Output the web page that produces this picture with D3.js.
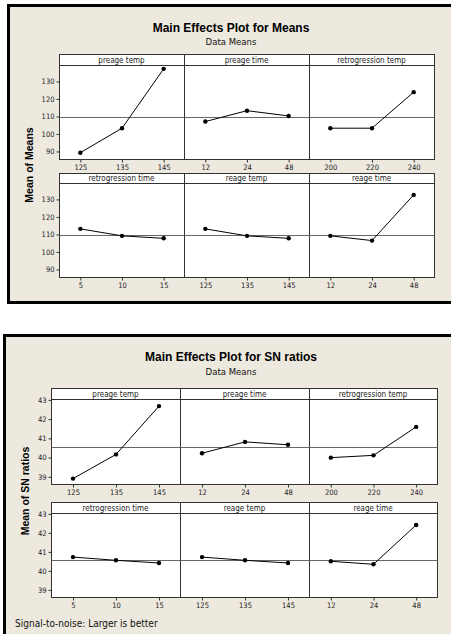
<!DOCTYPE html>
<html><head><meta charset="utf-8">
<script src="https://cdn.jsdelivr.net/npm/d3@7"></script>
<style>
html,body{margin:0;padding:0;background:#fff;}
svg{display:block;}
text{font-family:"DejaVu Sans Condensed","Liberation Sans",Arial,sans-serif;}
</style></head>
<body>
<script>
// ---------- DATA ----------
const factors = ["preage temp","preage time","retrogression temp","retrogression time","reage temp","reage time"];
const levels = [["125","135","145"],["12","24","48"],["200","220","240"],["5","10","15"],["125","135","145"],["12","24","48"]];
const meansValues = [[89.0,103.0,136.9],[106.8,113.0,110.0],[103.0,103.0,123.6],[112.9,108.9,107.5],[112.9,108.9,107.5],[108.9,106.2,132.3]];
const meansGrand = 109.4;
const meansTicks = [90,100,110,120,130];
const snValues = [[38.88,40.14,42.65],[40.20,40.79,40.64],[39.97,40.09,41.57],[40.70,40.53,40.39],[40.70,40.53,40.39],[40.48,40.32,42.39]];
const snGrand = 40.53;
const snTicks = [39,40,41,42,43];
const titles = ["Main Effects Plot for Means","Main Effects Plot for SN ratios"];
const subtitle = "Data Means";
const yTitles = ["Mean of Means","Mean of SN ratios"];
const footnote = "Signal-to-noise: Larger is better";

// ---------- DRAW ----------
const W = 451, H = 634;
const svg = d3.select("body").append("svg").attr("width", W).attr("height", H);
const bg = "#EDE9DF";
const titleFont = '"Liberation Sans",Arial,sans-serif';
const smallFont = '"DejaVu Sans Condensed","Liberation Sans",sans-serif';

function drawChart(cfg){
  const g = svg.append("g");
  g.append("rect").attr("x", cfg.frame[0]).attr("y", cfg.frame[1])
    .attr("width", cfg.frame[2]).attr("height", cfg.frame[3])
    .attr("fill", bg).attr("stroke", "#000").attr("stroke-width", 3);
  g.append("text").attr("x", cfg.titleX).attr("y", cfg.titleY).attr("text-anchor","middle")
    .style("font-family", titleFont)
    .attr("font-size", 12).attr("font-weight","bold").attr("fill","#000").text(cfg.title);
  g.append("text").attr("x", cfg.titleX).attr("y", cfg.subY).attr("text-anchor","middle")
    .style("font-family", smallFont)
    .attr("font-size", 9.5).attr("fill","#111").text(subtitle);
  g.append("text").attr("transform", `translate(${cfg.yTitleX},${cfg.yTitleY}) rotate(-90)`)
    .style("font-family", titleFont)
    .attr("text-anchor","middle").attr("font-size", 10.5).attr("font-weight","bold").attr("fill","#000")
    .text(cfg.yTitle);

  cfg.rows.forEach((row, r) => {
    const y = d3.scaleLinear().domain(cfg.yDomain).range([row.plotBottom, row.plotTop]);
    for (let c = 0; c < 3; c++){
      const i = r*3 + c;
      const x0 = cfg.colX[c], x1 = cfg.colX[c+1];
      const x = d3.scalePoint().domain(levels[i]).range([x0, x1]).padding(0.5);
      const p = g.append("g");
      // strip
      p.append("rect").attr("x", x0+0.5).attr("y", row.stripTop+0.5)
        .attr("width", x1-x0).attr("height", row.plotTop-row.stripTop)
        .attr("fill","#fff").attr("stroke","#333").attr("stroke-width",1);
      p.append("text").attr("x",(x0+x1)/2).attr("y",row.plotTop-2.5).attr("text-anchor","middle")
        .attr("font-size",8).attr("fill","#222").text(factors[i]);
      // plot area
      p.append("rect").attr("x", x0+0.5).attr("y", row.plotTop+0.5)
        .attr("width", x1-x0).attr("height", row.plotBottom-row.plotTop)
        .attr("fill","#fff").attr("stroke","#333").attr("stroke-width",1);
      // reference line
      p.append("line").attr("x1",x0+0.5).attr("x2",x1+0.5)
        .attr("y1",Math.round(y(cfg.grand))+0.5).attr("y2",Math.round(y(cfg.grand))+0.5)
        .attr("stroke","#666").attr("stroke-width",1);
      // x axis
      const xa = p.append("g").attr("transform",`translate(0.5,${row.plotBottom+0.5})`)
        .call(d3.axisBottom(x).tickSize(3).tickPadding(2));
      xa.select(".domain").remove();
      xa.selectAll("line").attr("stroke","#333");
      xa.selectAll("text").attr("font-size",7.5).attr("fill","#222").style("font-family", smallFont);
      // y axis on first column
      if (c === 0){
        const ya = p.append("g").attr("transform",`translate(${x0+0.5},0.5)`)
          .call(d3.axisLeft(y).tickValues(cfg.ticks).tickFormat(d3.format("d")).tickSize(3).tickPadding(2));
        ya.select(".domain").remove();
        ya.selectAll("line").attr("stroke","#333");
        ya.selectAll("text").attr("font-size",7.5).attr("fill","#222").style("font-family", smallFont);
      }
      // line + points
      const vals = cfg.values[i];
      const pts = levels[i].map((lv, k) => [x(lv)+0.5, y(vals[k])]);
      p.append("path").attr("d", d3.line()(pts)).attr("fill","none").attr("stroke","#000").attr("stroke-width",1);
      p.selectAll("circle").data(pts).join("circle")
        .attr("cx", d => d[0]).attr("cy", d => d[1]).attr("r", 2.2).attr("fill","#000");
    }
  });
  if (cfg.foot){
    g.append("text").attr("x", cfg.foot[0]).attr("y", cfg.foot[1]).attr("font-size", 10)
      .style("font-family", smallFont).attr("fill","#111").text(footnote);
  }
}

drawChart({
  frame:[8.5,5.5,470,297], title:titles[0], titleX:231, titleY:32, subY:45,
  yTitle:yTitles[0], yTitleX:33, yTitleY:165,
  colX:[59,184,309,434], yDomain:[85.4,139.1], ticks:meansTicks, grand:meansGrand, values:meansValues,
  rows:[{stripTop:54, plotTop:65, plotBottom:159},{stripTop:173, plotTop:183, plotBottom:277}]
});
drawChart({
  frame:[4.5,335.5,470,320], title:titles[1], titleX:231, titleY:361, subY:375,
  yTitle:yTitles[1], yTitleX:29, yTitleY:491,
  colX:[51,180,309,437], yDomain:[38.6,43.02], ticks:snTicks, grand:snGrand, values:snValues,
  rows:[{stripTop:388, plotTop:399, plotBottom:484},{stripTop:502, plotTop:513, plotBottom:597}],
  foot:[15,627]
});
</script>
</body></html>
